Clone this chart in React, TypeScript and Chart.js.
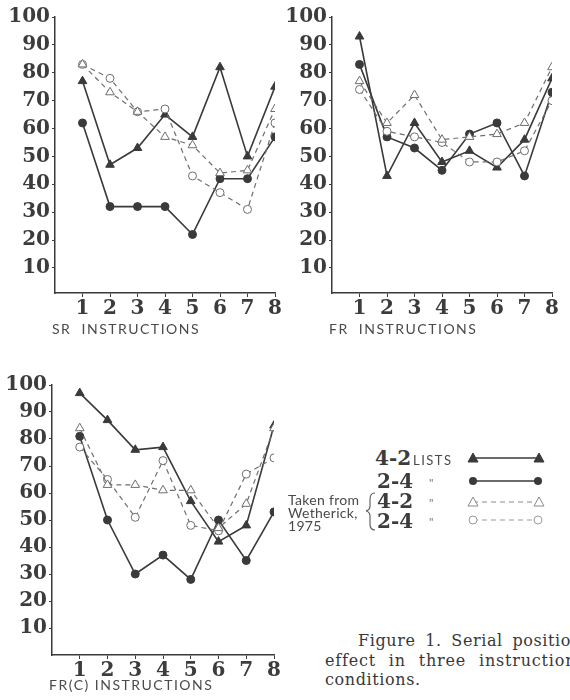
import React, { useEffect, useRef } from "react";
import { Chart, registerables } from "chart.js";

Chart.register(...registerables);

// ---- data ----
const positions = [1, 2, 3, 4, 5, 6, 7, 8];
const yTickValues = [10, 20, 30, 40, 50, 60, 70, 80, 90, 100];

// SR instructions
const sr42 = [77, 47, 53, 65, 57, 82, 50, 75];
const sr24 = [62, 32, 32, 32, 22, 42, 42, 57];
const srW42 = [83, 73, 66, 57, 54, 44, 45, 67];
const srW24 = [83, 78, 66, 67, 43, 37, 31, 62];

// FR instructions
const fr42 = [93, 43, 62, 48, 52, 46, 56, 78];
const fr24 = [83, 57, 53, 45, 58, 62, 43, 73];
const frW42 = [77, 62, 72, 56, 57, 58, 62, 82];
const frW24 = [74, 59, 57, 55, 48, 48, 52, 70];

// FR(C) instructions
const frc42 = [97, 87, 76, 77, 57, 42, 48, 85];
const frc24 = [81, 50, 30, 37, 28, 50, 35, 53];
const frcW42 = [84, 63, 63, 61, 61, 47, 56, 84];
const frcW24 = [77, 65, 51, 72, 48, 46, 67, 73];

const INK = "#3a3a3a";
const DASH_INK = "#6e6e6e";
const TEXT = "#3c3c3c";

function pts(vals: number[]) {
  return positions.map((x, i) => ({ x, y: vals[i] }));
}

function buildDatasets(s42: number[], s24: number[], w42: number[], w24: number[]) {
  const dashed = {
    borderColor: DASH_INK,
    borderWidth: 1.2,
    borderDash: [5, 4],
    pointBackgroundColor: "#ffffff",
    pointBorderColor: DASH_INK,
    pointBorderWidth: 1,
    tension: 0,
  };
  const solid = {
    borderColor: INK,
    borderWidth: 1.6,
    pointBackgroundColor: INK,
    pointBorderColor: INK,
    pointBorderWidth: 1,
    tension: 0,
  };
  return [
    { label: "4-2 (Wetherick, 1975)", data: pts(w42), pointStyle: "triangle", pointRadius: 5, ...dashed },
    { label: "2-4 (Wetherick, 1975)", data: pts(w24), pointStyle: "circle", pointRadius: 4, ...dashed },
    { label: "2-4 lists", data: pts(s24), pointStyle: "circle", pointRadius: 4, ...solid },
    { label: "4-2 lists", data: pts(s42), pointStyle: "triangle", pointRadius: 5, ...solid },
  ];
}

// draws the x-axis caption (letter-spaced) under the tick labels
const xCaptionPlugin = {
  id: "xCaption",
  afterDraw(chart: any, _args: any, opts: any) {
    const { ctx, chartArea } = chart;
    ctx.save();
    ctx.font = "14px Lato";
    ctx.letterSpacing = "1.5px";
    ctx.fillStyle = "#4a4a4a";
    ctx.textBaseline = "middle";
    ctx.textAlign = "left";
    ctx.fillText(opts.text, chartArea.left + opts.dx, chartArea.bottom + opts.dy);
    ctx.restore();
  },
};

type PanelProps = {
  left: number;
  top: number;
  width: number;
  height: number;
  axisW: number;
  padRight: number;
  padTop: number;
  xH: number;
  yMin: number;
  title: string;
  titleDy: number;
  series: number[][];
};

function Panel(p: PanelProps) {
  const ref = useRef<HTMLCanvasElement>(null);
  useEffect(() => {
    const tickFont = { family: "DejaVu Serif", weight: "bold" as const, size: 20 };
    const chart = new Chart(ref.current as HTMLCanvasElement, {
      type: "line",
      data: { datasets: buildDatasets(p.series[0], p.series[1], p.series[2], p.series[3]) as any },
      plugins: [xCaptionPlugin as any],
      options: {
        animation: false,
        responsive: false,
        maintainAspectRatio: false,
        devicePixelRatio: 1,
        layout: { padding: { top: p.padTop, right: p.padRight, left: 0, bottom: 0 } },
        plugins: {
          legend: { display: false },
          tooltip: { enabled: false },
          xCaption: { text: p.title, dx: -3, dy: p.titleDy },
        },
        scales: {
          x: {
            type: "linear",
            min: 0,
            max: 8,
            afterBuildTicks: (s: any) => {
              s.ticks = positions.map((v) => ({ value: v }));
            },
            afterFit: (s: any) => {
              s.height = p.xH;
            },
            ticks: { font: tickFont, color: TEXT, padding: 0, autoSkip: false, maxRotation: 0 },
            grid: { drawOnChartArea: false, tickLength: 4, color: INK, lineWidth: 1 },
            border: { color: INK, width: 1.5 },
            title: { display: false },
          },
          y: {
            type: "linear",
            min: p.yMin,
            max: 100,
            afterBuildTicks: (s: any) => {
              s.ticks = yTickValues.map((v) => ({ value: v }));
            },
            afterFit: (s: any) => {
              s.width = p.axisW;
            },
            ticks: { font: tickFont, color: TEXT, padding: 2, autoSkip: false },
            grid: { drawOnChartArea: false, tickLength: 3, color: INK, lineWidth: 1 },
            border: { color: INK, width: 1.5 },
          },
        },
      } as any,
    });
    return () => chart.destroy();
  }, []);
  return (
    <canvas
      ref={ref}
      width={p.width}
      height={p.height}
      style={{ position: "absolute", left: p.left, top: p.top, width: p.width, height: p.height }}
    />
  );
}

const serif = "'DejaVu Serif', serif";
const sans = "Lato, 'Open Sans', sans-serif";

function Abs(props: { left: number; top: number; style?: React.CSSProperties; children: React.ReactNode }) {
  return (
    <div style={{ position: "absolute", left: props.left, top: props.top, whiteSpace: "nowrap", ...props.style }}>
      {props.children}
    </div>
  );
}

function Legend() {
  const bold = { fontFamily: serif, fontWeight: 700, fontSize: 20, lineHeight: "24px", color: TEXT };
  const small = { fontFamily: sans, fontSize: 14, lineHeight: "14px", color: "#4a4a4a", letterSpacing: "0.3px" };
  const ditto = { fontFamily: sans, fontSize: 12, lineHeight: "12px", color: "#777" };
  const tri = (cx: number, cy: number) => `${cx},${cy - 5} ${cx - 5},${cy + 4} ${cx + 5},${cy + 4}`;
  return (
    <>
      <Abs left={375} top={446} style={bold}>4-2</Abs>
      <Abs left={413} top={453} style={{ ...small, fontSize: 13, letterSpacing: "1.5px" }}>LISTS</Abs>
      <Abs left={377} top={469} style={bold}>2-4</Abs>
      <Abs left={377} top={489} style={bold}>4-2</Abs>
      <Abs left={377} top={509} style={bold}>2-4</Abs>
      <Abs left={429} top={477} style={ditto}>"</Abs>
      <Abs left={429} top={497} style={ditto}>"</Abs>
      <Abs left={429} top={516} style={ditto}>"</Abs>
      <Abs left={288} top={493} style={small}>Taken from</Abs>
      <Abs left={288} top={506} style={small}>Wetherick,</Abs>
      <Abs left={288} top={519} style={small}>1975</Abs>
      <svg width={200} height={90} style={{ position: "absolute", left: 360, top: 446 }} viewBox="0 0 200 90">
        <path
          d="M 15 47 Q 10 47 10 53 L 10 60 Q 10 64 6 65 Q 10 66 10 70 L 10 78 Q 10 84 15 84"
          fill="none"
          stroke="#555"
          strokeWidth={1.1}
        />
        <line x1={113} y1={12} x2={179} y2={12} stroke={INK} strokeWidth={1.6} />
        <polygon points={tri(113, 12)} fill={INK} stroke={INK} />
        <polygon points={tri(179, 12)} fill={INK} stroke={INK} />
        <line x1={113} y1={35} x2={178} y2={35} stroke={INK} strokeWidth={1.6} />
        <circle cx={113} cy={35} r={4} fill={INK} />
        <circle cx={178} cy={35} r={4} fill={INK} />
        <line x1={113} y1={56} x2={179} y2={56} stroke="#8a8a8a" strokeWidth={1.1} strokeDasharray="5 4" />
        <polygon points={tri(113, 56)} fill="#fff" stroke="#8a8a8a" strokeWidth={1} />
        <polygon points={tri(179, 56)} fill="#fff" stroke="#8a8a8a" strokeWidth={1} />
        <line x1={113} y1={74} x2={178} y2={74} stroke="#9a9a9a" strokeWidth={1.1} strokeDasharray="5 4" />
        <circle cx={113} cy={74} r={4} fill="#fff" stroke="#9a9a9a" strokeWidth={1} />
        <circle cx={178} cy={74} r={4} fill="#fff" stroke="#9a9a9a" strokeWidth={1} />
      </svg>
    </>
  );
}

function Caption() {
  const cap = {
    fontFamily: serif,
    fontSize: 16,
    lineHeight: "20px",
    color: "#383838",
    letterSpacing: "0.6px",
  };
  return (
    <>
      <Abs left={358} top={631} style={{ ...cap, wordSpacing: "4px" }}>Figure 1. Serial position</Abs>
      <Abs left={325} top={651} style={{ ...cap, wordSpacing: "7px", letterSpacing: "0.8px" }}>effect in three instruction</Abs>
      <Abs left={325} top={670} style={cap}>conditions.</Abs>
    </>
  );
}

export default function App() {
  return (
    <div
      style={{
        position: "fixed",
        left: 0,
        top: 0,
        width: 570,
        height: 700,
        overflow: "hidden",
        background: "#ffffff",
      }}
    >
      <Panel left={0} top={0} width={290} height={345} axisW={55} padRight={15} padTop={17} xH={52} yMin={1}
        title="SR  INSTRUCTIONS" titleDy={36} series={[sr42, sr24, srW42, srW24]} />
      <Panel left={277} top={0} width={290} height={345} axisW={55} padRight={15} padTop={17} xH={52} yMin={1}
        title="FR  INSTRUCTIONS" titleDy={36} series={[fr42, fr24, frW42, frW24]} />
      <Panel left={0} top={368} width={290} height={332} axisW={52} padRight={16} padTop={17} xH={45} yMin={0}
        title="FR(C) INSTRUCTIONS" titleDy={30} series={[frc42, frc24, frcW42, frcW24]} />
      <Legend />
      <Caption />
    </div>
  );
}
